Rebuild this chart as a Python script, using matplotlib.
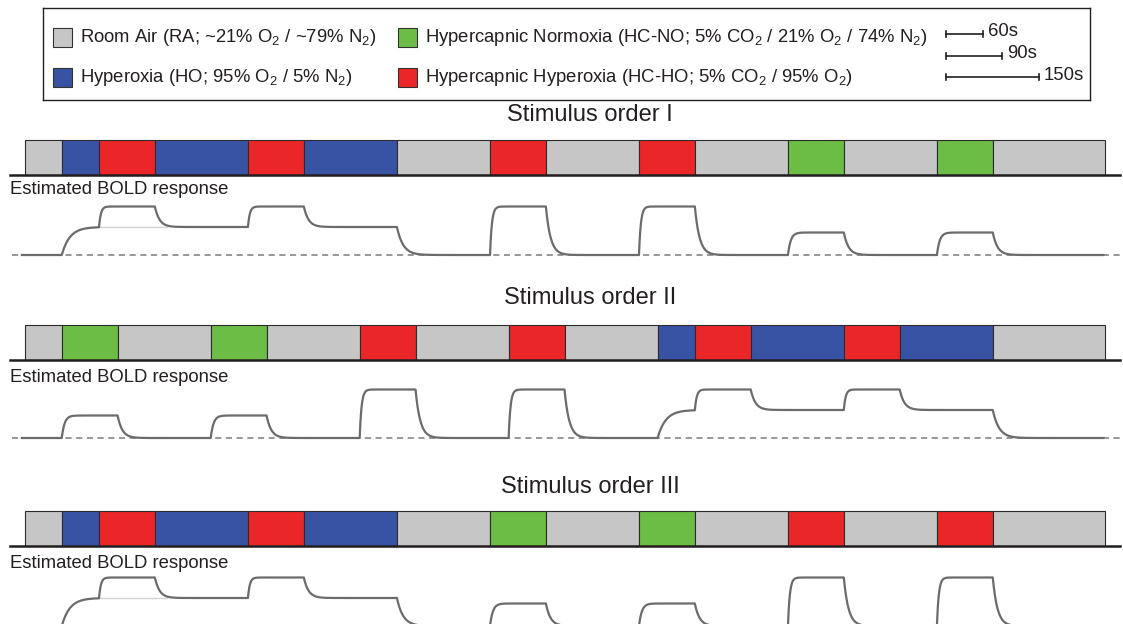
import numpy as np
import matplotlib
matplotlib.use("Agg")
import matplotlib.pyplot as plt
from matplotlib.patches import Rectangle

plt.rcParams['font.family'] = ['Liberation Sans', 'DejaVu Sans']
plt.rcParams['mathtext.fontset'] = 'custom'
plt.rcParams['mathtext.rm'] = 'Liberation Sans'
plt.rcParams['mathtext.it'] = 'Liberation Sans:italic'
plt.rcParams['mathtext.bf'] = 'Liberation Sans:bold'

# gases and colours
gas_colors = {'RA': '#c6c6c6', 'HO': '#3953a4', 'HC-HO': '#ea2629', 'HC-NO': '#6cbd45'}
legend_gases = ['RA', 'HO', 'HC-NO', 'HC-HO']
legend_labels = ['Room Air (RA; ~21% O$_2$ / ~79% N$_2$)',
                 'Hyperoxia (HO; 95% O$_2$ / 5% N$_2$)',
                 'Hypercapnic Normoxia (HC-NO; 5% CO$_2$ / 21% O$_2$ / 74% N$_2$)',
                 'Hypercapnic Hyperoxia (HC-HO; 5% CO$_2$ / 95% O$_2$)']
scale_durations = [60, 90, 150]
scale_labels = ['60s', '90s', '150s']

# stimulus orders (gas, duration in s)
order_titles = ['Stimulus order I', 'Stimulus order II', 'Stimulus order III']
order1_gas = ['RA', 'HO', 'HC-HO', 'HO', 'HC-HO', 'HO', 'RA', 'HC-HO', 'RA', 'HC-HO',
              'RA', 'HC-NO', 'RA', 'HC-NO', 'RA']
order1_dur = [60, 60, 90, 150, 90, 150, 150, 90, 150, 90, 150, 90, 150, 90, 180]
order2_gas = ['RA', 'HC-NO', 'RA', 'HC-NO', 'RA', 'HC-HO', 'RA', 'HC-HO', 'RA', 'HO',
              'HC-HO', 'HO', 'HC-HO', 'HO', 'RA']
order2_dur = [60, 90, 150, 90, 150, 90, 150, 90, 150, 60, 90, 150, 90, 150, 180]
order3_gas = ['RA', 'HO', 'HC-HO', 'HO', 'HC-HO', 'HO', 'RA', 'HC-NO', 'RA', 'HC-NO',
              'RA', 'HC-HO', 'RA', 'HC-HO', 'RA']
order3_dur = [60, 60, 90, 150, 90, 150, 150, 90, 150, 90, 150, 90, 150, 90, 180]
orders_gas = [order1_gas, order2_gas, order3_gas]
orders_dur = [order1_dur, order2_dur, order3_dur]

# schematic BOLD plateau levels and time constants (s)
bold_level = {'RA': 0.0, 'HO': 0.56, 'HC-HO': 0.97, 'HC-NO': 0.45}
rise_tau = {'RA': 8.0, 'HO': 13.0, 'HC-HO': 3.0, 'HC-NO': 4.5}
decay_tau = {'RA': 8.0, 'HO': 10.0, 'HC-HO': 7.5, 'HC-NO': 7.5}

W, H = 1123, 624
px_per_s = 1080 / 1740.0
x_start = 24.5
t_left = -x_start / px_per_s
t_right = (W - x_start) / px_per_s

# layout (pixels from top)
title_y = [115, 298, 487]
bar_top = [140, 325, 511]
bar_h = 35
label_y = [190, 378, 563]
base_y = [255, 438, 626]


def bold_curve(gases, durs):
    t_all, r_all = [np.array([-6.0, 0.0])], [np.array([0.0, 0.0])]
    r0, t0, prev = 0.0, 0.0, 'RA'
    for g, d in zip(gases, durs):
        tt = np.linspace(0, d, int(d * 2) + 1)
        target = bold_level[g]
        tau = rise_tau[g] if target > r0 else decay_tau[prev]
        rr = target + (r0 - target) * np.exp(-tt / tau)
        t_all.append(t0 + tt)
        r_all.append(rr)
        r0, t0, prev = rr[-1], t0 + d, g
    return np.concatenate(t_all), np.concatenate(r_all)


fig = plt.figure(figsize=(W / 100, H / 100), dpi=100)

# legend box
ax_leg = fig.add_axes([43 / W, 1 - 100 / H, (1090 - 43) / W, 92 / H])
ax_leg.set_xlim(43, 1090)
ax_leg.set_ylim(100, 8)
ax_leg.set_xticks([])
ax_leg.set_yticks([])
for sp in ax_leg.spines.values():
    sp.set_linewidth(1.0)
    sp.set_color('#231f20')
leg_x = [53, 53, 398, 398]
leg_y = [37, 77, 37, 77]
for g, lab, x, y in zip(legend_gases, legend_labels, leg_x, leg_y):
    ax_leg.add_patch(Rectangle((x, y - 9.5), 19, 19, facecolor=gas_colors[g],
                               edgecolor='#333333', lw=0.8))
    ax_leg.text(x + 27, y, lab, fontsize=13.3, va='center', ha='left', color='#231f20')
sb_y = [34, 56, 77]
for d, lab, y in zip(scale_durations, scale_labels, sb_y):
    x1 = 946 + d * px_per_s
    ax_leg.plot([946, x1], [y, y], color='#231f20', lw=1.2)
    ax_leg.plot([946, 946], [y - 3, y + 3], color='#231f20', lw=1.2)
    ax_leg.plot([x1, x1], [y - 3, y + 3], color='#231f20', lw=1.2)
    ax_leg.text(x1 + 5, y - 2, lab, fontsize=13.3, va='center', ha='left', color='#231f20')

for k in range(3):
    gases, durs = orders_gas[k], orders_dur[k]
    starts = np.concatenate([[0], np.cumsum(durs)[:-1]])

    ax = fig.add_axes([0, 1 - (bar_top[k] + bar_h) / H, 1, bar_h / H])
    ax.set_xlim(t_left, t_right)
    ax.set_ylim(0, 1)
    ax.axis('off')
    ax.barh(0.5, durs, left=starts, height=1.0,
            color=[gas_colors[g] for g in gases], edgecolor='#2b2b2b', lw=0.8,
            clip_on=False)
    ax.axhline(0, xmin=10 / W, xmax=1120 / W, color='#231f20', lw=1.8, clip_on=False)

    fig.text(590 / W, 1 - title_y[k] / H, order_titles[k], fontsize=17,
             ha='center', va='center', color='#231f20')
    fig.text(10 / W, 1 - label_y[k] / H, 'Estimated BOLD response', fontsize=13.3,
             ha='left', va='center', color='#231f20')

    ax2 = fig.add_axes([0, 1 - (base_y[k] + 10) / H, 1, 70 / H])
    ax2.set_xlim(t_left, t_right)
    ax2.set_ylim(-0.2, 1.2)
    ax2.axis('off')
    ax2.axhline(0, xmin=12 / W, xmax=1120 / W, color='#7a7a7a', lw=1.1, ls=(0, (4, 3)))
    # faint continuation of the HO level under the first HC-HO block
    for i in range(1, len(gases)):
        if gases[i] == 'HC-HO' and gases[i - 1] == 'HO' and i == 2:
            ax2.plot([starts[i], starts[i] + durs[i] + 20], [bold_level['HO']] * 2,
                     color='#d4d4d4', lw=1.0)
    t, r = bold_curve(gases, durs)
    ax2.plot(t, r, color='#6b6b6b', lw=1.6, solid_capstyle='butt')

fig.savefig('out.png', dpi=100)
